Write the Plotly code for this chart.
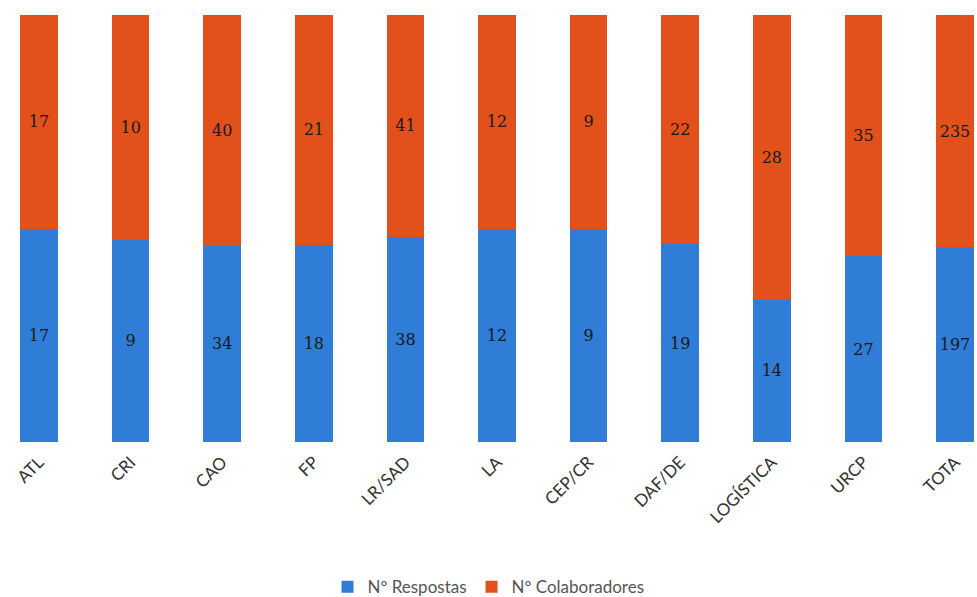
import plotly.graph_objects as go

categories = ["ATL", "CRI", "CAO", "FP", "LR/SAD", "LA", "CEP/CR", "DAF/DE", "LOGÍSTICA", "URCP", "TOTA"]
respostas = [17, 9, 34, 18, 38, 12, 9, 19, 14, 27, 197]
colaboradores = [17, 10, 40, 21, 41, 12, 9, 22, 28, 35, 235]

blue = "#2f7dd6"
orange = "#e2511c"

fig = go.Figure()
fig.add_trace(go.Bar(
    x=categories, y=respostas, name="Nº Respostas",
    marker=dict(color=blue, line=dict(width=0)),
    text=[str(v) for v in respostas], textposition="inside",
    insidetextanchor="middle", width=0.41,
    textfont=dict(family="DejaVu Serif", size=16, color="#1a1a1a"),
))
fig.add_trace(go.Bar(
    x=categories, y=colaboradores, name="Nº Colaboradores",
    marker=dict(color=orange, line=dict(width=0)),
    text=[str(v) for v in colaboradores], textposition="inside",
    insidetextanchor="middle", width=0.41,
    textfont=dict(family="DejaVu Serif", size=16, color="#1a1a1a"),
))

fig.update_layout(
    barmode="stack", barnorm="percent",
    width=977, height=597,
    margin=dict(l=0, r=0, t=15, b=155, autoexpand=False),
    paper_bgcolor="white", plot_bgcolor="white",
    font=dict(family="Lato", size=15, color="#333333"),
    showlegend=True,
    legend=dict(orientation="h", x=0.5, xanchor="center", y=-0.34, yanchor="middle",
                font=dict(size=17, color="#555555"), traceorder="normal"),
)
fig.update_xaxes(range=[-0.426, 10.24], tickangle=-45, showgrid=False, showline=False,
                 automargin=False, ticks="", ticklabelstandoff=6,
                 tickfont=dict(size=17, color="#333333"))
fig.update_yaxes(range=[0, 100], visible=False, showgrid=False, automargin=False)

fig.write_html("out.html")
